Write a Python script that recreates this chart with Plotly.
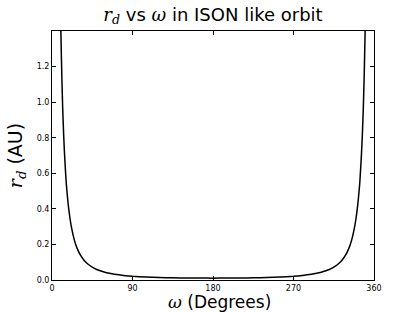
import plotly.graph_objects as go

# Values (omega in degrees, r_d in AU)
omega_deg = [9, 10, 11, 12, 13, 14, 15, 16, 18, 20, 22, 25, 28, 32, 36, 40, 45, 50, 60, 70, 80,
             90, 105, 120, 135, 150, 165, 180, 195, 210, 225, 240, 255, 270,
             280, 290, 300, 310, 315, 320, 324, 328, 332, 335, 338, 340, 342,
             344, 345, 346, 347, 348, 349, 350, 351]
r_d_au = [1.71, 1.38, 1.14, 0.96, 0.82, 0.71, 0.62, 0.54, 0.43, 0.35, 0.29, 0.224, 0.179, 0.138,
          0.110, 0.090, 0.072, 0.059, 0.042, 0.032, 0.0254,
          0.021, 0.0167, 0.014, 0.0123, 0.0113, 0.0107, 0.0105, 0.0107, 0.0113, 0.0123, 0.014,
          0.0167, 0.021,
          0.0254, 0.032, 0.042, 0.059, 0.072, 0.090, 0.110, 0.138, 0.179, 0.224, 0.29, 0.35,
          0.43, 0.54, 0.62, 0.71, 0.82, 0.96, 1.14, 1.38, 1.71]

x_ticks = [0, 90, 180, 270, 360]
y_ticks = [0.0, 0.2, 0.4, 0.6, 0.8, 1.0, 1.2]

rd = '<span style="font-family:\'DejaVu Serif\'"><i>r</i><sub><i>d</i></sub></span>'
om = '<span style="font-family:\'DejaVu Serif\'"><i>ω</i></span>'

fig = go.Figure()
fig.add_trace(go.Scatter(x=omega_deg, y=r_d_au, mode="lines",
                         line=dict(color="black", width=1.5, shape="spline", smoothing=0.5),
                         showlegend=False, hoverinfo="skip"))

axis_common = dict(showgrid=False, zeroline=False, ticks="inside", ticklen=4, tickwidth=1,
                   tickcolor="black", showline=True, linecolor="black", linewidth=1,
                   mirror="ticks", automargin=False,
                   tickfont=dict(family="DejaVu Sans", size=8, color="black"))

fig.update_layout(
    width=415, height=312,
    margin=dict(l=52, r=41, t=31, b=32),
    paper_bgcolor="white", plot_bgcolor="white",
    title=dict(text=f"{rd} vs {om} in ISON like orbit", xref="paper", x=0.5, xanchor="center",
               y=0.954, yanchor="middle",
               font=dict(family="DejaVu Sans", size=18, color="black")),
    xaxis=dict(range=[0, 360], tickvals=x_ticks, ticktext=[str(v) for v in x_ticks],
               **axis_common),
    yaxis=dict(range=[0, 1.4], tickvals=y_ticks, ticktext=[f"{v:.1f}" for v in y_ticks],
               title=dict(text=f"{rd} (AU)", standoff=9,
                          font=dict(family="DejaVu Sans", size=19, color="black")),
               **axis_common),
    annotations=[dict(text=f"{om} (Degrees)", xref="paper", yref="paper",
                      x=0.519, y=-0.09, xanchor="center", yanchor="middle",
                      showarrow=False,
                      font=dict(family="DejaVu Sans", size=17, color="black"))],
)

fig.write_html("out.html", config={"displayModeBar": False},
               post_script="document.body.style.margin='0';document.body.style.padding='0';")
